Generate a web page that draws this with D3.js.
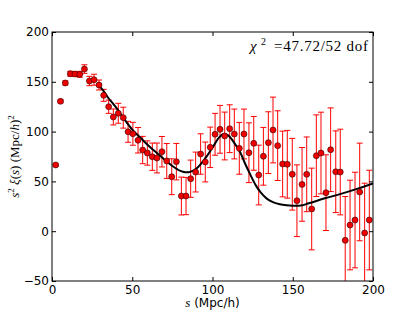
<!DOCTYPE html>
<html>
<head>
<meta charset="utf-8">
<script src="https://cdn.jsdelivr.net/npm/d3@7"></script>
<style>
  body { margin: 0; background: #fff; }
  .axis text { font-family: "DejaVu Sans", sans-serif; font-size: 12px; fill: #000; }
  .axis path, .axis line { stroke: #000; }
</style>
</head>
<body>
<div id="chart"></div>
<script>
    // separation bins (Mpc/h), measured s^2 xi(s) and its error
    var sep = [2.3, 5.3, 8.3, 11.4, 14.3, 17.3, 20.2, 23.3, 26.2, 29.3,
               32.2, 35.3, 38.2, 41.3, 44.4, 47.4, 50.4, 53.6, 56.5, 59.4,
               62.5, 65.4, 68.5, 71.5, 74.6, 77.5, 80.6, 83.5, 86.4, 89.5,
               92.6, 95.5, 98.6, 101.6, 104.7, 107.6, 110.7, 113.6, 116.7, 119.6,
               122.7, 125.7, 128.8, 131.7, 134.8, 137.7, 140.6, 143.7, 146.6, 149.7,
               152.6, 155.8, 158.7, 161.8, 164.7, 167.6, 170.7, 173.6, 176.8, 179.6,
               182.7, 185.7, 188.8, 191.7, 194.8, 197.7];

    var xi = [66.5, 130.4, 148.8, 158.1, 157.8, 157.5, 162.8, 150.8, 152.1, 146.8,
              136.4, 125, 114.7, 118.4, 114, 99.8, 97.8, 91.3, 81.5, 78.5,
              74.8, 73.5, 79.8, 70.5, 54.7, 69.8, 35.3, 35.3, 52.7, 59.4,
              77.5, 69.5, 84.2, 97.3, 102.3, 95.6, 102.9, 97.6, 83.2, 97.6,
              78.8, 88.2, 56.4, 75.2, 88.9, 101.6, 85.9, 67.5, 67.2, 57.2,
              30.6, 47, 57.1, 22.3, 75.8, 78.5, 38.7, 81.8, 59.7, 59.4,
              -9.2, 6.2, 11.2, 39.4, -1.8, 11.2];

    var err = [1, 1.5, 2, 2.5, 2.5, 3, 4.3, 4.7, 5.5, 5,
               6, 6.7, 8, 10, 10.5, 10.5, 11.5, 12.8, 13.7, 12.2,
               13.7, 15, 15.3, 17.5, 18, 18.3, 19, 18.7, 18.7, 20,
               20.3, 20, 20.3, 21, 24, 24, 24, 25, 26, 25,
               30, 27, 30, 29, 31, 33, 35, 33, 34, 36,
               36, 37, 37.5, 41, 41, 41, 38, 42, 41, 43,
               44, 45, 48, 49, 50, 50];

    // best-fit model curve
    var modelS  = [29, 32, 35, 40, 45, 50, 55, 60, 65, 70, 75, 80, 83, 86, 90, 95,
                   100, 104, 107, 110, 113, 117, 120, 123.5, 127, 130, 134, 138,
                   142, 146, 150, 155, 160, 170, 180, 190, 200];
    var modelXi = [147, 141, 134, 124, 112.5, 102, 94, 86, 79, 72, 65.5, 60.5, 59.2, 59.6, 63, 72,
                   84, 94, 97.5, 96, 90, 80, 69, 57, 46, 39, 32.5, 29,
                   27, 26, 25.6, 25.8, 28, 33, 37.5, 42.5, 48];

    var xTicks = [0, 50, 100, 150, 200];
    var yTicks = [-50, 0, 50, 100, 150, 200];

    var width = 415;
    var height = 313;

    var margin = {
      top: 32,
      right: 42,
      left: 52,
      bottom: 32
    };

    var svg = d3.select('#chart').append("svg")
        .attr("width", width)
        .attr("height", height)
      .append("g")
        .attr("transform", "translate(" + margin.left + "," + margin.top + ")");

    width = width - margin.left - margin.right;
    height = height - margin.top - margin.bottom;

    var x = d3.scaleLinear().domain([0, 200]).range([0, width]);
    var y = d3.scaleLinear().domain([-50, 200]).range([height, 0]);

    var defs = svg.append("defs");
    defs.append("clipPath").attr("id", "clip")
      .append("rect").attr("width", width).attr("height", height);

    var data = sep.map(function(s, i) { return {s: s, v: xi[i], e: err[i]}; });

    var plot = svg.append("g").attr("clip-path", "url(#clip)");

    // error bars
    var bars = plot.append("g")
        .attr("stroke", "#f00")
        .attr("stroke-width", 1)
      .selectAll("g")
      .data(data)
      .enter().append("g");

    bars.append("line")
        .attr("x1", function(d) { return x(d.s); })
        .attr("x2", function(d) { return x(d.s); })
        .attr("y1", function(d) { return y(d.v - d.e); })
        .attr("y2", function(d) { return y(d.v + d.e); });

    bars.selectAll("line.cap")
        .data(function(d) { return [d.v - d.e, d.v + d.e].map(function(v) { return {s: d.s, v: v}; }); })
        .enter().append("line")
          .attr("class", "cap")
          .attr("x1", function(d) { return x(d.s) - 3; })
          .attr("x2", function(d) { return x(d.s) + 3; })
          .attr("y1", function(d) { return y(d.v); })
          .attr("y2", function(d) { return y(d.v); });

    // model
    var line = d3.line()
        .x(function(d, i) { return x(modelS[i]); })
        .y(function(d) { return y(d); })
        .curve(d3.curveCatmullRom);

    plot.append("path")
        .datum(modelXi)
        .attr("fill", "none")
        .attr("stroke", "#000")
        .attr("stroke-width", 2)
        .attr("d", line);

    // data points
    plot.append("g")
      .selectAll("circle")
      .data(data)
      .enter().append("circle")
        .attr("cx", function(d) { return x(d.s); })
        .attr("cy", function(d) { return y(d.v); })
        .attr("r", 3)
        .attr("fill", "#e00")
        .attr("stroke", "#300")
        .attr("stroke-width", 0.6);

    // axes, ticks inward on all four sides
    svg.append("g")
        .attr("class", "axis")
        .attr("transform", "translate(0," + height + ")")
        .call(d3.axisBottom(x).tickValues(xTicks).tickSizeInner(-4).tickSizeOuter(0).tickPadding(4));

    svg.append("g")
        .attr("class", "axis")
        .call(d3.axisLeft(y).tickValues(yTicks).tickSizeInner(-4).tickSizeOuter(0).tickPadding(3));

    svg.append("g")
        .attr("class", "axis")
        .call(d3.axisTop(x).tickValues(xTicks).tickSizeInner(-4).tickSizeOuter(0).tickFormat(""));

    svg.append("g")
        .attr("class", "axis")
        .attr("transform", "translate(" + width + ",0)")
        .call(d3.axisRight(y).tickValues(yTicks).tickSizeInner(-4).tickSizeOuter(0).tickFormat(""));

    svg.selectAll(".axis .domain").remove();
    svg.append("rect")
        .attr("width", width)
        .attr("height", height)
        .attr("fill", "none")
        .attr("stroke", "#000")
        .attr("stroke-width", 1);

    // labels
    var xl = svg.append("text")
        .attr("x", width / 2)
        .attr("y", height + 26)
        .attr("text-anchor", "middle")
        .attr("font-family", "DejaVu Sans, sans-serif")
        .attr("font-size", 12);
    xl.append("tspan").attr("font-family", "Liberation Serif, serif").attr("font-style", "italic").attr("font-size", 13).text("s");
    xl.append("tspan").text(" (Mpc/h)");

    var yl = svg.append("text")
        .attr("transform", "translate(-33," + (height / 2) + ") rotate(-90)")
        .attr("text-anchor", "middle")
        .attr("font-family", "Liberation Serif, serif")
        .attr("font-size", 13);
    yl.append("tspan").attr("font-style", "italic").text("s");
    yl.append("tspan").attr("font-size", 9).attr("dy", -5).text("2");
    yl.append("tspan").attr("dy", 5).attr("font-style", "italic").text(" ξ");
    yl.append("tspan").text("(");
    yl.append("tspan").attr("font-style", "italic").text("s");
    yl.append("tspan").text(")  (Mpc/");
    yl.append("tspan").attr("font-style", "italic").text("h");
    yl.append("tspan").text(")");
    yl.append("tspan").attr("font-size", 9).attr("dy", -5).text("2");

    var note = svg.append("text")
        .attr("y", 19)
        .attr("font-family", "Liberation Serif, serif")
        .attr("font-size", 15);
    note.append("tspan").attr("x", 198).attr("font-style", "italic").text("χ");
    note.append("tspan").attr("x", 209).attr("font-size", 10).attr("dy", -6).text("2");
    note.append("tspan").attr("x", 222).attr("dy", 6)
        .attr("textLength", 94).attr("lengthAdjust", "spacing")
        .text("=47.72/52 dof");
</script>
</body>
</html>
